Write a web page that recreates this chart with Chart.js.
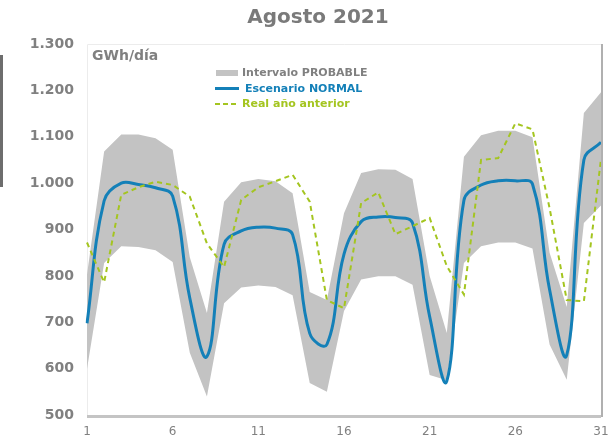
<!DOCTYPE html>
<html>
<head>
<meta charset="utf-8">
<script src="https://cdn.jsdelivr.net/npm/chart.js@4/dist/chart.umd.min.js"></script>
<style>
  html, body { margin: 0; padding: 0; background: #fff; }
  #wrap { position: relative; width: 610px; height: 439px; }
  #sidebar { position: absolute; left: 0; top: 55px; width: 3px; height: 132px; background: #6d6d6d; }
</style>
</head>
<body>
<div id="wrap">
  <div id="sidebar"></div>
  <canvas id="chart" width="610" height="439"></canvas>
</div>
<script>
const days = ['1','2','3','4','5','6','7','8','9','10','11','12','13','14','15','16',
              '17','18','19','20','21','22','23','24','25','26','27','28','29','30','31'];

// Intervalo PROBABLE (upper / lower bound), GWh/día
const upperBand = [803, 1068, 1105, 1105, 1097, 1072, 840, 720, 960, 1002, 1009, 1004, 978, 765, 748, 935,
                   1022, 1030, 1029, 1009, 800, 677, 1057, 1103, 1113, 1113, 1099, 850, 733, 1151, 1196];
const lowerBand = [599, 828, 864, 862, 855, 830, 634, 540, 741, 775, 779, 776, 758, 569, 550, 724,
                   792, 799, 799, 781, 586, 575, 828, 864, 872, 872, 859, 652, 576, 914, 952];

// Escenario NORMAL
const normal = [698, 962, 1000, 997, 990, 972, 752, 626, 868, 897, 905, 903, 889, 676, 652, 847,
                917, 927, 926, 914, 712, 573, 963, 996, 1005, 1005, 998, 770, 629, 1050, 1088];

// Real año anterior
const lastYear = [872, 786, 975, 991, 1003, 996, 971, 870, 819, 964, 991, 1004, 1018, 960, 748, 730,
                  957, 980, 890, 907, 925, 821, 760, 1050, 1054, 1129, 1116, 946, 748, 745, 1052];

const yTicks = [500, 600, 700, 800, 900, 1000, 1100, 1200, 1300];

const GRAY_TEXT = '#808080';
const BLUE = '#1480b8';
const GREEN = '#a4c520';
const BAND = '#c3c3c3';
const FONT = "'DejaVu Sans', Verdana, sans-serif";

function fmt(v) {
    return String(v).replace(/\B(?=(\d{3})+(?!\d))/g, '.');
}

// frame, title, unit label and legend drawn by hand
const decorations = {
    id: 'decorations',
    beforeDatasetsDraw(chart) {
        const { ctx, chartArea: a } = chart;
        ctx.save();
        ctx.strokeStyle = '#ececec';
        ctx.lineWidth = 1;
        ctx.beginPath();
        ctx.moveTo(a.left + 0.5, a.bottom);
        ctx.lineTo(a.left + 0.5, a.top + 0.5);
        ctx.lineTo(a.right, a.top + 0.5);
        ctx.stroke();
        ctx.restore();
    },
    afterDraw(chart) {
        const { ctx, chartArea: a } = chart;
        ctx.save();

        // right & bottom frame
        ctx.fillStyle = '#b0b0b0';
        ctx.fillRect(a.right, a.top, 2, a.bottom - a.top + 2);
        ctx.fillStyle = '#c4c4c4';
        ctx.fillRect(a.left, a.bottom, a.right - a.left, 3);

        // title
        ctx.fillStyle = '#7a7a7a';
        ctx.font = 'bold 20px ' + FONT;
        ctx.textAlign = 'center';
        ctx.textBaseline = 'middle';
        ctx.fillText('Agosto 2021', 318, 18);

        // unit
        ctx.fillStyle = GRAY_TEXT;
        ctx.font = 'bold 14px ' + FONT;
        ctx.textAlign = 'left';
        ctx.fillText('GWh/día', 92, 56);

        // legend
        ctx.font = 'bold 11px ' + FONT;
        ctx.fillStyle = BAND;
        ctx.fillRect(216, 70, 22, 6);
        ctx.fillStyle = GRAY_TEXT;
        ctx.fillText('Intervalo PROBABLE', 242, 73);

        ctx.strokeStyle = BLUE;
        ctx.lineWidth = 3;
        ctx.beginPath();
        ctx.moveTo(215, 88.5);
        ctx.lineTo(239, 88.5);
        ctx.stroke();
        ctx.fillStyle = BLUE;
        ctx.fillText('Escenario NORMAL', 245, 89);

        ctx.strokeStyle = GREEN;
        ctx.lineWidth = 2;
        ctx.setLineDash([5, 3]);
        ctx.beginPath();
        ctx.moveTo(215, 104);
        ctx.lineTo(239, 104);
        ctx.stroke();
        ctx.setLineDash([]);
        ctx.fillStyle = GREEN;
        ctx.fillText('Real año anterior', 242, 104);

        ctx.restore();
    }
};

new Chart(document.getElementById('chart'), {
    type: 'line',
    data: {
        labels: days,
        datasets: [
            {
                label: 'Escenario NORMAL',
                data: normal,
                borderColor: BLUE,
                borderWidth: 3,
                pointRadius: 0,
                tension: 0.4,
                fill: false,
                order: 1
            },
            {
                label: 'Real año anterior',
                data: lastYear,
                borderColor: GREEN,
                borderWidth: 2,
                borderDash: [5, 4],
                pointRadius: 0,
                tension: 0,
                fill: false,
                order: 0
            },
            {
                label: 'Intervalo PROBABLE',
                data: upperBand,
                borderWidth: 0,
                borderColor: BAND,
                backgroundColor: BAND,
                pointRadius: 0,
                tension: 0,
                fill: '+1',
                order: 2
            },
            {
                label: 'min',
                data: lowerBand,
                borderWidth: 0,
                borderColor: BAND,
                pointRadius: 0,
                tension: 0,
                fill: false,
                order: 3
            }
        ]
    },
    options: {
        responsive: false,
        animation: false,
        events: [],
        layout: { padding: { top: 44, right: 9, left: 0, bottom: 0 } },
        plugins: {
            legend: { display: false },
            title: { display: false },
            tooltip: { enabled: false }
        },
        scales: {
            x: {
                grid: { display: false, drawTicks: false },
                border: { display: false },
                afterFit(scale) {
                    scale.height = 24;
                    scale.paddingLeft = 0;
                    scale.paddingRight = 0;
                },
                ticks: {
                    autoSkip: false,
                    maxRotation: 0,
                    padding: 10,
                    color: GRAY_TEXT,
                    font: { family: FONT, size: 12 },
                    callback(val, i) { return i % 5 === 0 ? days[i] : ''; }
                }
            },
            y: {
                min: yTicks[0],
                max: yTicks[yTicks.length - 1],
                grid: { display: false, drawTicks: false },
                border: { display: false },
                afterFit(scale) { scale.width = 87; },
                afterBuildTicks(scale) { scale.ticks = yTicks.map(v => ({ value: v })); },
                ticks: {
                    padding: 13,
                    color: GRAY_TEXT,
                    font: { family: FONT, size: 14, weight: 'bold' },
                    callback(v) { return fmt(v); }
                }
            }
        }
    },
    plugins: [decorations]
});
</script>
</body>
</html>
